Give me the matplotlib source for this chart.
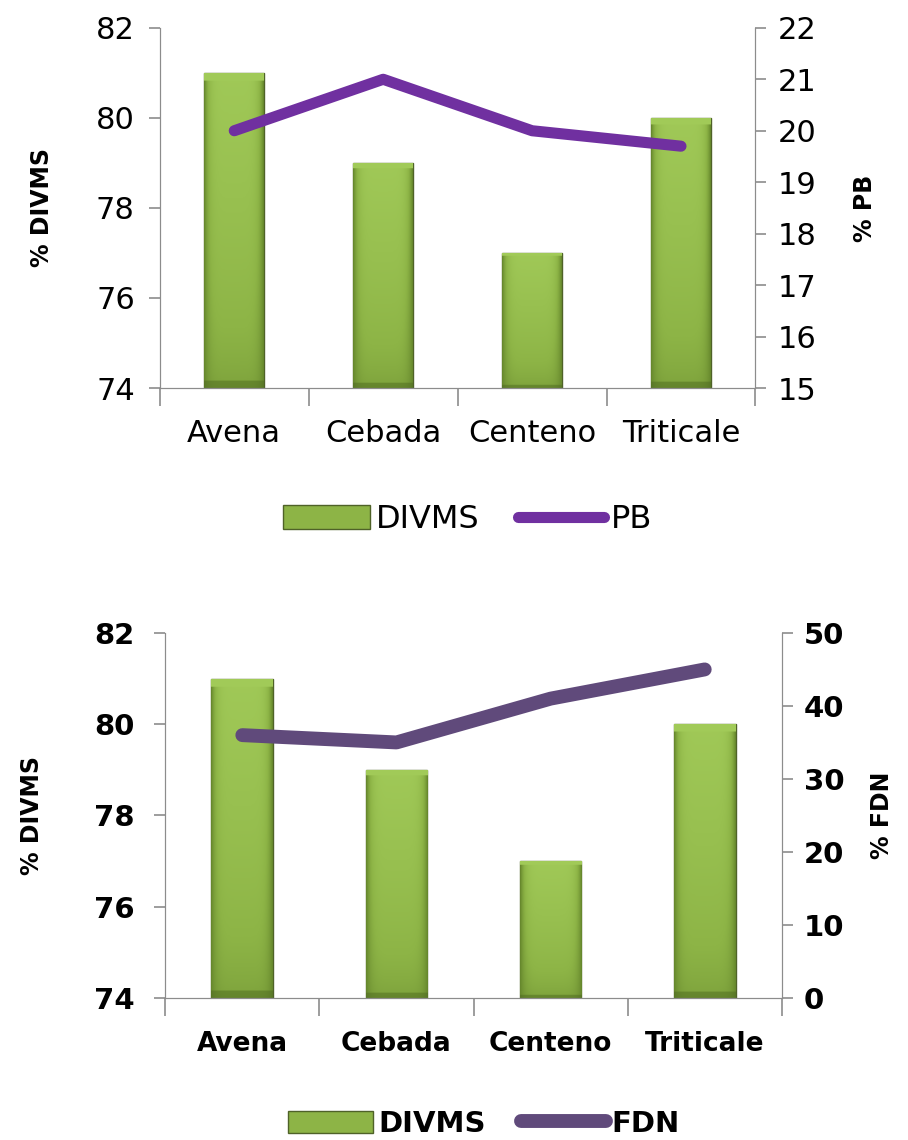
import numpy as np
import matplotlib.pyplot as plt
from matplotlib.colors import LinearSegmentedColormap
from matplotlib.patches import Patch
from matplotlib.lines import Line2D

plt.rcParams["font.family"] = ["DejaVu Sans"]

# ====================== datos ======================
categorias = ["Avena", "Cebada", "Centeno", "Triticale"]
divms = [81, 79, 77, 80]
pb = [20.0, 21.0, 20.0, 19.7]
fdn = [36, 35, 41, 45]

ticks_divms = [74, 76, 78, 80, 82]
ticks_pb = [15, 16, 17, 18, 19, 20, 21, 22]
ticks_fdn = [0, 10, 20, 30, 40, 50]

GRIS = "#8c8c8c"
VERDE = "#8db446"
VERDE_BORDE = "#4f6228"
MORADO = "#7030a0"
MORADO_OSC = "#604a7b"

cmap_verde = LinearSegmentedColormap.from_list(
    "verde", ["#4a6420", "#6a8c2f", "#8db446", "#a3cc5a"])


def barras_degradado(ax, barras):
    # degradado tipo bisel de Excel dentro de cada barra
    u = np.linspace(0, 1, 64)
    v = np.linspace(0, 1, 256)
    U, V = np.meshgrid(u, v)
    lados = 1 - np.abs(2 * U - 1) ** 6
    z = 0.3 + 0.45 * V ** 0.6 * lados + 0.2 * lados
    z[-7:, :] = 0.98
    z[:6, :] *= 0.55
    piso = ax.get_ylim()[0]
    for b in barras:
        x0, w = b.get_x(), b.get_width()
        tope = b.get_y() + b.get_height()
        im = ax.imshow(z, extent=[x0, x0 + w, piso, tope], origin="lower",
                       cmap=cmap_verde, vmin=0, vmax=1, aspect="auto",
                       zorder=2, interpolation="bilinear")
        im.set_clip_path(b)


def estilo_ejes(ax, ax2):
    ax.spines["top"].set_visible(False)
    ax2.spines["top"].set_visible(False)
    for s in ["left", "bottom", "right"]:
        ax.spines[s].set_color(GRIS)
        ax2.spines[s].set_color(GRIS)
    ax.set_xlim(-0.5, len(categorias) - 0.5)
    ax.set_xticks(range(len(categorias)))
    ax.set_xticks(np.arange(-0.5, len(categorias)), minor=True)
    ax.tick_params(axis="x", which="major", length=0, pad=22)
    ax.tick_params(axis="x", which="minor", length=13, color=GRIS, width=1.2)
    ax.tick_params(axis="y", length=8, color=GRIS, width=1.2, pad=10)
    ax2.tick_params(axis="y", length=8, color=GRIS, width=1.2, pad=8)


fig = plt.figure(figsize=(9.08, 11.4), dpi=100)
x = np.arange(len(categorias))

# ====================== grafico superior: DIVMS + PB ======================
ax = fig.add_axes([0.176, 0.6596, 0.656, 0.316])
ax.set_ylim(74, 82)
ax.set_yticks(ticks_divms)
barras = ax.bar(x, divms, width=0.4, color=VERDE, edgecolor=VERDE_BORDE,
                linewidth=1, zorder=1)
barras_degradado(ax, barras)
ax.set_ylim(74, 82)
ax.set_xticklabels(categorias, fontsize=22)
ax.tick_params(axis="y", labelsize=22)
ax.set_ylabel("% DIVMS", fontsize=17, fontweight="bold", labelpad=30)

ax2 = ax.twinx()
ax2.plot(x, pb, color=MORADO, linewidth=8, solid_capstyle="round",
         solid_joinstyle="round", zorder=3)
ax2.set_ylim(15, 22)
ax2.set_yticks(ticks_pb)
ax2.tick_params(axis="y", labelsize=22)
ax2.set_ylabel("% PB", fontsize=17, fontweight="bold", rotation=90,
               labelpad=26)
estilo_ejes(ax, ax2)

fig.legend(handles=[Patch(facecolor=VERDE, edgecolor=VERDE_BORDE),
                    Line2D([0], [0], color=MORADO, linewidth=8,
                           solid_capstyle="round")],
           labels=["DIVMS", "PB"], loc="center", ncol=2,
           bbox_to_anchor=(0.515, 0.544), frameon=False, fontsize=23,
           handlelength=2.7, handleheight=0.8, handletextpad=0.2,
           columnspacing=1.2)

# ====================== grafico inferior: DIVMS + FDN ======================
axb = fig.add_axes([0.182, 0.1246, 0.679, 0.3202])
axb.set_ylim(74, 82)
axb.set_yticks(ticks_divms)
barras_b = axb.bar(x, divms, width=0.4, color=VERDE, edgecolor=VERDE_BORDE,
                   linewidth=1, zorder=1)
barras_degradado(axb, barras_b)
axb.set_ylim(74, 82)
axb.set_xticklabels(categorias, fontsize=19, fontweight="bold")
axb.tick_params(axis="y", labelsize=21)
for t in axb.get_yticklabels():
    t.set_fontweight("bold")
axb.set_ylabel("% DIVMS", fontsize=17, fontweight="bold", labelpad=36)

axb2 = axb.twinx()
axb2.plot(x, fdn, color=MORADO_OSC, linewidth=10, solid_capstyle="round",
          solid_joinstyle="round", zorder=3)
axb2.set_ylim(0, 50)
axb2.set_yticks(ticks_fdn)
axb2.tick_params(axis="y", labelsize=21)
for t in axb2.get_yticklabels():
    t.set_fontweight("bold")
axb2.set_ylabel("% FDN", fontsize=17, fontweight="bold", rotation=90,
                labelpad=18)
estilo_ejes(axb, axb2)
axb.tick_params(axis="y", pad=14)
axb.tick_params(axis="x", which="major", pad=24)

fig.legend(handles=[Patch(facecolor=VERDE, edgecolor=VERDE_BORDE),
                    Line2D([0], [0], color=MORADO_OSC, linewidth=10,
                           solid_capstyle="round")],
           labels=["DIVMS", "FDN"], loc="center", ncol=2,
           bbox_to_anchor=(0.533, 0.014), frameon=False,
           prop={"weight": "bold", "size": 21},
           handlelength=2.9, handleheight=0.8, handletextpad=0.2,
           columnspacing=1.2)

fig.savefig("out.png", dpi=100)
